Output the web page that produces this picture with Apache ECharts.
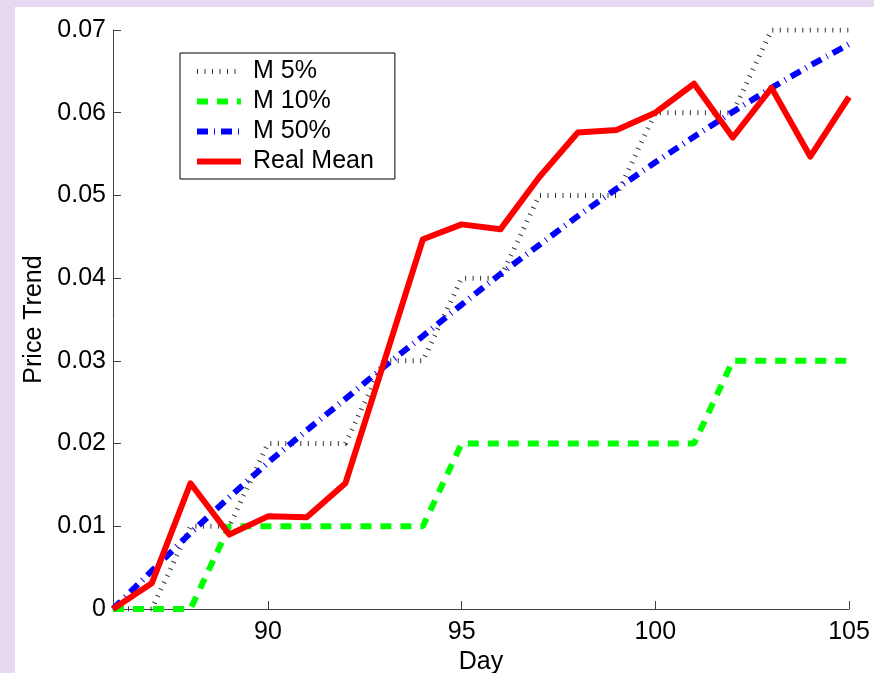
<!DOCTYPE html>
<html>
<head>
<meta charset="utf-8">
<script src="https://cdn.jsdelivr.net/npm/echarts@6/dist/echarts.min.js"></script>
<style>
  html, body { margin: 0; padding: 0; }
  #chart { width: 874px; height: 673px; }
</style>
</head>
<body>
<div id="chart"></div>
<script>
const days = [86, 87, 88, 89, 90, 91, 92, 93, 94, 95, 96, 97, 98, 99, 100, 101, 102, 103, 104, 105];
const m5 = [0, 0, 0.01, 0.01, 0.02, 0.02, 0.02, 0.03, 0.03, 0.04, 0.04, 0.05, 0.05, 0.05, 0.06, 0.06, 0.06, 0.07, 0.07, 0.07];
const m10 = [0, 0, 0, 0.01, 0.01, 0.01, 0.01, 0.01, 0.01, 0.02, 0.02, 0.02, 0.02, 0.02, 0.02, 0.02, 0.03, 0.03, 0.03, 0.03];
const m50 = [0, 0.0046, 0.0092, 0.0135, 0.0177, 0.0216, 0.0254, 0.0293, 0.0330, 0.0368, 0.0405, 0.0440, 0.0475, 0.0508, 0.0540, 0.0571, 0.0601, 0.0630, 0.0657, 0.0683];
const realMean = [0, 0.0031, 0.0152, 0.0090, 0.0112, 0.0111, 0.0152, 0.0299, 0.0447, 0.0465, 0.0459, 0.0522, 0.0576, 0.0579, 0.0600, 0.0635, 0.0570, 0.0630, 0.0547, 0.0619];
const xTicks = [90, 95, 100, 105];
const seriesNames = ['M 5%', 'M 10%', 'M 50%', 'Real Mean'];

const FONT = '"Liberation Sans", Arial, Helvetica, sans-serif';
const pairs = arr => days.map((d, i) => [d, arr[i]]);

const chart = echarts.init(document.getElementById('chart'), null, { renderer: 'canvas' });
chart.setOption({
  animation: false,
  backgroundColor: '#e8d9f3',
  graphic: [{
    type: 'rect', z: -10, silent: true,
    shape: { x: 15, y: 7, width: 874 - 15, height: 673 - 7 },
    style: { fill: '#ffffff' }
  }],
  grid: { left: 113, right: 25, top: 30, bottom: 64, containLabel: false, outerBoundsMode: 'none' },
  legend: {
    orient: 'vertical', left: 180, top: 53,
    data: seriesNames,
    itemWidth: 44, itemHeight: 25, itemGap: 5,
    padding: [6, 21, 5, 14],
    borderColor: '#000', borderWidth: 1,
    backgroundColor: '#fff',
    itemStyle: { opacity: 0, borderWidth: 0 },
    lineStyle: { width: 'inherit' },
    textStyle: { fontFamily: FONT, fontSize: 25, color: '#000', lineHeight: 25, padding: [0, 0, 0, 7] }
  },
  xAxis: {
    type: 'value', min: 86, max: 105,
    name: 'Day', nameLocation: 'middle', nameGap: 38,
    nameTextStyle: { fontFamily: FONT, fontSize: 25, color: '#000' },
    axisLine: { show: true, onZero: false, lineStyle: { color: '#404040', width: 1 } },
    axisTick: { show: true, inside: true, length: 8, customValues: xTicks, lineStyle: { color: '#404040' } },
    axisLabel: { customValues: xTicks, margin: 11, fontFamily: FONT, fontSize: 25, color: '#000' },
    splitLine: { show: false }
  },
  yAxis: {
    type: 'value', min: 0, max: 0.07, interval: 0.01,
    name: 'Price Trend', nameLocation: 'middle', nameGap: 58, nameRotate: 90,
    nameTextStyle: { fontFamily: FONT, fontSize: 25, color: '#000' },
    axisLine: { show: true, lineStyle: { color: '#404040', width: 1 } },
    axisTick: { show: true, inside: true, length: 8, lineStyle: { color: '#404040' } },
    axisLabel: {
      margin: 7, fontFamily: FONT, fontSize: 25, color: '#000',
      formatter: v => (v === 0 ? '0' : v.toFixed(2))
    },
    splitLine: { show: false }
  },
  series: [
    {
      name: seriesNames[0], type: 'line', data: pairs(m5), symbol: 'none',
      lineStyle: { color: '#333333', width: 5, type: [1, 6.5] },
      itemStyle: { color: '#333333' }
    },
    {
      name: seriesNames[1], type: 'line', data: pairs(m10), symbol: 'none',
      lineStyle: { color: '#00ff00', width: 6, type: [11, 9] },
      itemStyle: { color: '#00ff00' }
    },
    {
      name: seriesNames[2], type: 'line', data: pairs(m50), symbol: 'none',
      lineStyle: { color: '#0000ff', width: 6, type: [11, 6, 1, 6] },
      itemStyle: { color: '#0000ff' }
    },
    {
      name: seriesNames[3], type: 'line', data: pairs(realMean), symbol: 'none',
      lineStyle: { color: '#ff0000', width: 6, join: 'round' },
      itemStyle: { color: '#ff0000' }
    }
  ]
});
</script>
</body>
</html>
